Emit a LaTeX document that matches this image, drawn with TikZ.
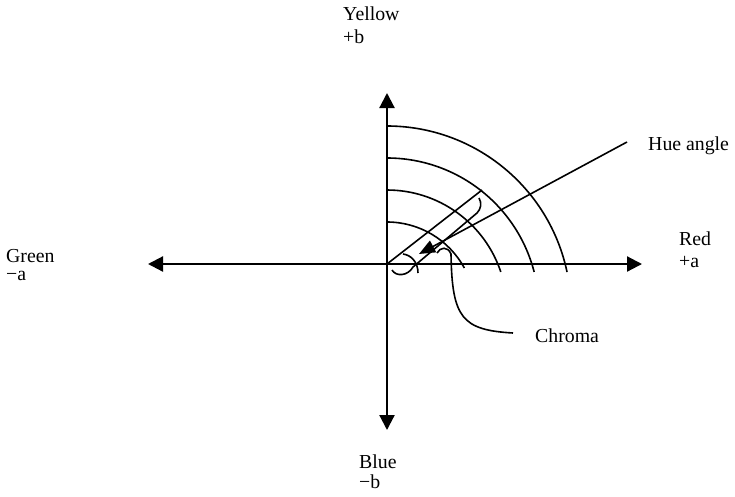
\documentclass[tikz,border=0pt]{standalone}
\usepackage{fontspec}
\setmainfont{Liberation Serif}
\usetikzlibrary{arrows.meta}
\begin{document}
\begin{tikzpicture}[x=1pt,y=-1pt,
  axisline/.style={line width=2.2pt,{Triangle[length=15pt,width=15pt]}-{Triangle[length=15pt,width=15pt]}},
  thin line/.style={line width=1.6pt},
  lbl/.style={anchor=base west,inner sep=0pt,font=\fontsize{19.8}{22}\selectfont}]
\useasboundingbox (0,0) rectangle (735,496);
% key points
\coordinate (O) at (387,264);
\coordinate (AL) at (148,264);
\coordinate (AR) at (642,264);
\coordinate (AT) at (387,93);
\coordinate (AB) at (387,430);
\coordinate (CR) at (482,190);
\coordinate (H1) at (627,142);
\coordinate (H2) at (419,254);
% axes
\draw[axisline] (AL) -- (AR);
\draw[axisline] (AB) -- (AT);
% chroma circles (centre below the axis)
\draw[thin line] (387,126) arc[start angle=-90,end angle=-11.9,radius=184];
\draw[thin line] (387,158) arc[start angle=-90,end angle=-14.5,radius=152];
\draw[thin line] (387,190) arc[start angle=-90,end angle=-18.5,radius=120];
\draw[thin line] (387,222) arc[start angle=-90,end angle=-28.5,radius=88];
% chroma ray
\draw[thin line] (O) -- (CR);
% bracket along the ray
\draw[thin line] (392,270) .. controls (396,277) and (408,276) .. (413,267) -- (477,213) .. controls (481,209) and (482,203) .. (479,198);
% hue angle arc
\draw[thin line] (403,254) .. controls (411,255) and (418,262) .. (418,273);
% hue angle leader
\draw[thin line,-{Triangle[length=16pt,width=13pt]}] (H1) -- (H2);
% chroma leader
\draw[thin line] (437,253) .. controls (440,247) and (448,246) .. (451,254) .. controls (452,318) and (462,330) .. (513,333);
% labels
\node[lbl] (yel) at (343,20) {Yellow};
\node[lbl] (pb) at (343,43) {+b};
\node[lbl] (grn) at (6,262) {Green};
\node[lbl] (ma) at (6,280) {−a};
\node[lbl] (red) at (679,245) {Red};
\node[lbl] (pa) at (679,267) {+a};
\node[lbl] (blu) at (359,468) {Blue};
\node[lbl] (mb) at (359,488) {−b};
\node[lbl] (hue) at (648,150) {Hue angle};
\node[lbl] (chr) at (535,342) {Chroma};
\end{tikzpicture}
\end{document}
